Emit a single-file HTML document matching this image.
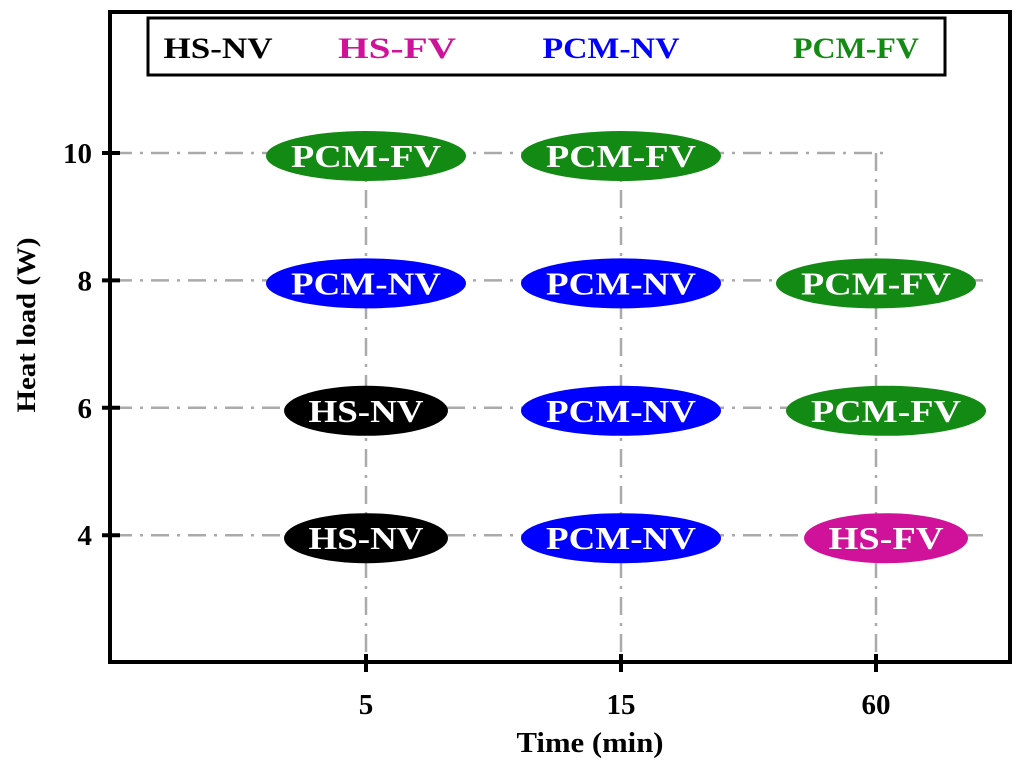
<!DOCTYPE html>
<html><head><meta charset="utf-8"><style>
body{margin:0;background:#fff}
svg text{font-family:"Liberation Serif",serif;font-weight:bold}
</style></head><body>
<svg width="1024" height="771" viewBox="0 0 1024 771">
<g id="grid"></g>
<g id="marks"></g>
<rect x="110" y="12" width="900" height="650" fill="none" stroke="#000" stroke-width="4"/>
<g id="ticks"></g>
<g>
<rect x="148" y="18" width="797" height="57" fill="#fff" stroke="#000" stroke-width="3"/>
<text x="218" y="58" font-size="30" text-anchor="middle" textLength="109" lengthAdjust="spacingAndGlyphs" fill="#000">HS-NV</text>
<text x="397" y="58" font-size="30" text-anchor="middle" textLength="118" lengthAdjust="spacingAndGlyphs" fill="#d0129a">HS-FV</text>
<text x="611" y="58" font-size="30" text-anchor="middle" textLength="137" lengthAdjust="spacingAndGlyphs" fill="#0000ff">PCM-NV</text>
<text x="856" y="58" font-size="30" text-anchor="middle" textLength="126" lengthAdjust="spacingAndGlyphs" fill="#138a13">PCM-FV</text>
</g>
<text x="590" y="752" font-size="28" text-anchor="middle" textLength="147" lengthAdjust="spacingAndGlyphs">Time (min)</text>
<text transform="translate(35,325) rotate(-90)" font-size="26" text-anchor="middle" textLength="175" lengthAdjust="spacingAndGlyphs">Heat load (W)</text>
<script>
const xCats=["5","15","60"];
const yTicks=[4,6,8,10];
const cellX=["5","5","5","5","15","15","15","15","60","60","60"];
const cellY=[10,8,6,4,10,8,6,4,8,6,4];
const cellLabel=["PCM-FV","PCM-NV","HS-NV","HS-NV","PCM-FV","PCM-NV","PCM-NV","PCM-NV","PCM-FV","PCM-FV","HS-FV"];
const colors={"HS-NV":"#000","HS-FV":"#d0129a","PCM-NV":"#0000ff","PCM-FV":"#138a13"};
const NS="http://www.w3.org/2000/svg";
function xs(c){return 366+xCats.indexOf(c)*255;}
function ys(v){return 153+(10-v)*63.7;}
function mk(t,a,p){const e=document.createElementNS(NS,t);for(const k in a)e.setAttribute(k,a[k]);p.appendChild(e);return e;}
const grid=document.getElementById('grid'),marks=document.getElementById('marks'),ticks=document.getElementById('ticks');
yTicks.forEach(v=>{
 const y=ys(v);
 const l=mk('line',{x1:114,x2:(v===10?884:990),y1:y,y2:y,stroke:'#aaa','stroke-width':2.5,'stroke-dasharray':'18 8 3 8'},grid);
 
 
 const t=mk('line',{x1:102,x2:120,y1:y,y2:y,stroke:'#000','stroke-width':4},ticks);
 
 
 const tx=mk('text',{x:92,y:y+10,'font-size':29,'text-anchor':'end'},ticks);tx.textContent=v;
 
 
});
xCats.forEach(c=>{
 const x=xs(c);
 const l=mk('line',{x1:x,x2:x,y1:ys(10),y2:660,stroke:'#aaa','stroke-width':2.5,'stroke-dasharray':'18 8 3 8'},grid);
 
 
 const t=mk('line',{x1:x,x2:x,y1:654,y2:672,stroke:'#000','stroke-width':4},ticks);
 
 
 const tx=mk('text',{x:x,y:714,'font-size':29,'text-anchor':'middle'},ticks);tx.textContent=c;
 
 
});
cellLabel.forEach((lab,i)=>{
 const hs=lab.startsWith('HS');
 const x=xs(cellX[i])+(cellX[i]==="60"&&cellY[i]<=6?10:0),y=ys(cellY[i])+3;
 const e=mk('ellipse',{cx:x,cy:y,rx:hs?82:100,ry:25,fill:colors[lab]},marks);
 
 
 const t=mk('text',{x:x,y:y+11,'font-size':32,'text-anchor':'middle',fill:'#fff',textLength:hs?115:150,lengthAdjust:'spacingAndGlyphs'},marks);t.textContent=lab;
 
 
});
</script>
</svg>
</body></html>
